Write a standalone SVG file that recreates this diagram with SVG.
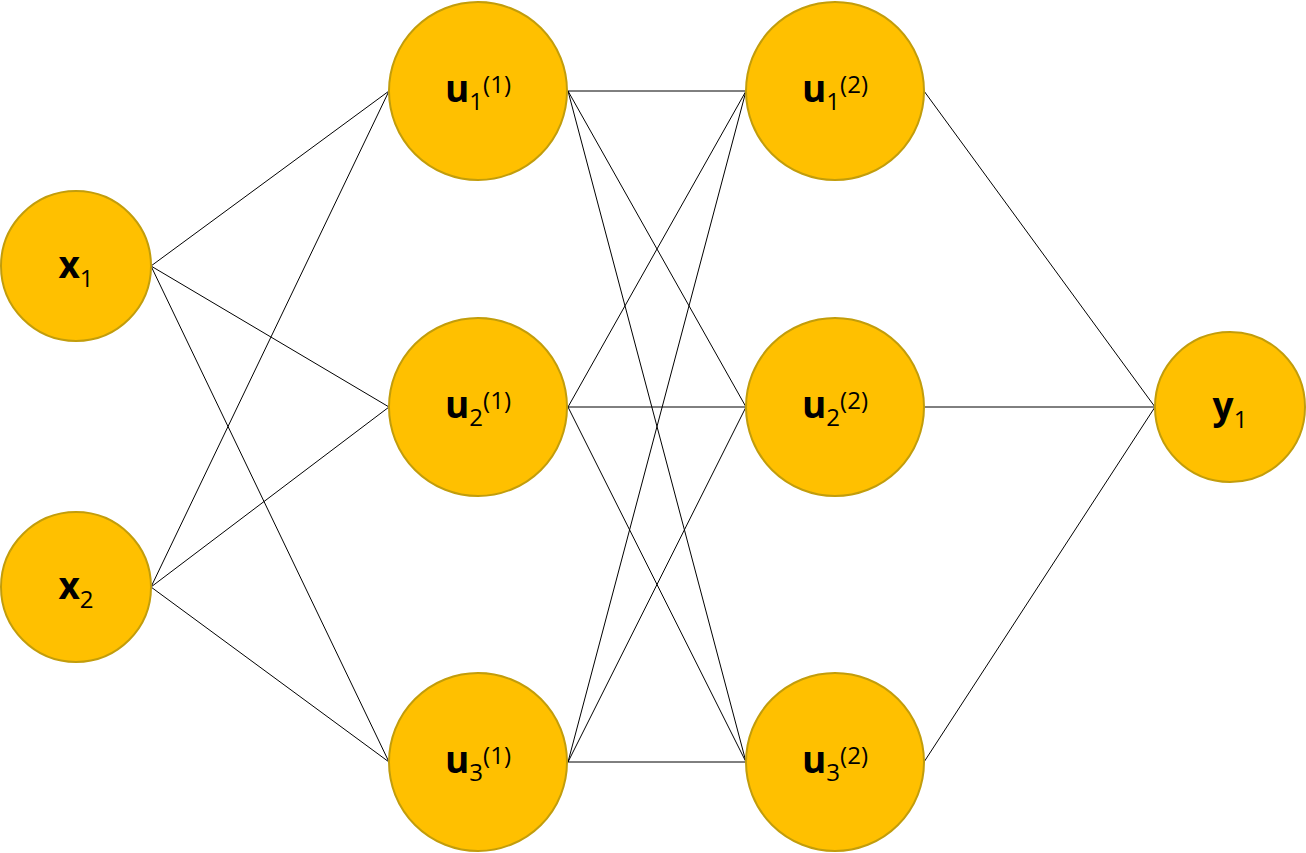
<svg xmlns="http://www.w3.org/2000/svg" width="1306" height="853" viewBox="0 0 1306 853">
<style>
.n{fill:#FFC000;stroke:#C29D0B;stroke-width:2}
.e line{stroke:#000;stroke-width:1}
text{font-family:"Open Sans","Noto Sans","Liberation Sans",sans-serif;font-size:37px;fill:#000}
.b{font-weight:bold}
.s{font-size:24px}
</style>
<rect width="1306" height="853" fill="#fff"/>
<g id="connectors" class="e">
<line x1="151" y1="266" x2="389" y2="91"/>
<line x1="151" y1="266" x2="389" y2="407"/>
<line x1="151" y1="266" x2="389" y2="762"/>
<line x1="151" y1="587" x2="389" y2="91"/>
<line x1="151" y1="587" x2="389" y2="407"/>
<line x1="151" y1="587" x2="389" y2="762"/>
<line x1="568" y1="91" x2="746" y2="91"/>
<line x1="568" y1="91" x2="746" y2="407"/>
<line x1="568" y1="91" x2="746" y2="762"/>
<line x1="568" y1="407" x2="746" y2="91"/>
<line x1="568" y1="407" x2="746" y2="407"/>
<line x1="568" y1="407" x2="746" y2="762"/>
<line x1="568" y1="762" x2="746" y2="91"/>
<line x1="568" y1="762" x2="746" y2="407"/>
<line x1="568" y1="762" x2="746" y2="762"/>
<line x1="924" y1="91" x2="1155" y2="407"/>
<line x1="924" y1="407" x2="1155" y2="407"/>
<line x1="924" y1="762" x2="1155" y2="407"/>
</g>
<g id="x1"><circle class="n" cx="76" cy="266" r="75"/><text x="76" y="278" text-anchor="middle"><tspan class="b">x</tspan><tspan class="s" dy="9">1</tspan></text></g>
<g id="x2"><circle class="n" cx="76" cy="587" r="75"/><text x="76" y="599" text-anchor="middle"><tspan class="b">x</tspan><tspan class="s" dy="9">2</tspan></text></g>
<g id="u1_1"><circle class="n" cx="478" cy="91" r="89"/><text x="478" y="102" text-anchor="middle"><tspan class="b">u</tspan><tspan class="s" dy="8">1</tspan><tspan class="s" dy="-17">(1)</tspan></text></g>
<g id="u2_1"><circle class="n" cx="478" cy="407" r="89"/><text x="478" y="418" text-anchor="middle"><tspan class="b">u</tspan><tspan class="s" dy="8">2</tspan><tspan class="s" dy="-17">(1)</tspan></text></g>
<g id="u3_1"><circle class="n" cx="478" cy="762" r="89"/><text x="478" y="773" text-anchor="middle"><tspan class="b">u</tspan><tspan class="s" dy="8">3</tspan><tspan class="s" dy="-17">(1)</tspan></text></g>
<g id="u1_2"><circle class="n" cx="835" cy="91" r="89"/><text x="835" y="102" text-anchor="middle"><tspan class="b">u</tspan><tspan class="s" dy="8">1</tspan><tspan class="s" dy="-17">(2)</tspan></text></g>
<g id="u2_2"><circle class="n" cx="835" cy="407" r="89"/><text x="835" y="418" text-anchor="middle"><tspan class="b">u</tspan><tspan class="s" dy="8">2</tspan><tspan class="s" dy="-17">(2)</tspan></text></g>
<g id="u3_2"><circle class="n" cx="835" cy="762" r="89"/><text x="835" y="773" text-anchor="middle"><tspan class="b">u</tspan><tspan class="s" dy="8">3</tspan><tspan class="s" dy="-17">(2)</tspan></text></g>
<g id="y1"><circle class="n" cx="1230" cy="407" r="75"/><text x="1230" y="419" text-anchor="middle"><tspan class="b">y</tspan><tspan class="s" dy="9">1</tspan></text></g>
</svg>
